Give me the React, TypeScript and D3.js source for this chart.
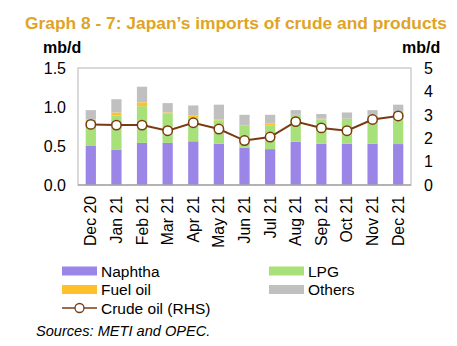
import React from "react";
import * as d3 from "d3";

const categories = ["Dec 20","Jan 21","Feb 21","Mar 21","Apr 21","May 21","Jun 21","Jul 21","Aug 21","Sep 21","Oct 21","Nov 21","Dec 21"];
const naphtha = [0.50,0.45,0.54,0.54,0.56,0.53,0.48,0.46,0.555,0.53,0.53,0.53,0.525];
const lpg = [0.34,0.44,0.47,0.38,0.30,0.30,0.28,0.30,0.345,0.31,0.32,0.37,0.425];
const fuelOil = [0,0.04,0.05,0.01,0.03,0.01,0.01,0.03,0,0.01,0,0,0];
const others = [0.12,0.17,0.20,0.12,0.13,0.19,0.13,0.11,0.06,0.06,0.08,0.06,0.08];
const crude = [2.59,2.56,2.56,2.32,2.66,2.39,1.90,2.05,2.71,2.44,2.32,2.80,2.95];
const leftTicks = [0, 0.5, 1.0, 1.5];
const rightTicks = [0, 1, 2, 3, 4, 5];

const seriesKeys = ["naphtha", "lpg", "fuelOil", "others"];
const seriesColors: Record<string, string> = {
  naphtha: "#9b86e8",
  lpg: "#a8e07a",
  fuelOil: "#ffc02a",
  others: "#c0c0c0",
};
const crudeColor = "#7a3b12";
const titleColor = "#e0a424";

const W = 457, H = 346;
const plot = { left: 78, right: 411, top: 68, bottom: 185 };
const FONT = "'Liberation Sans', Arial, sans-serif";

export default function App() {
  const rows = categories.map((c, i) => ({
    cat: c,
    naphtha: naphtha[i],
    lpg: lpg[i],
    fuelOil: fuelOil[i],
    others: others[i],
  }));
  const stack = d3.stack<any>().keys(seriesKeys)(rows);
  const x = d3.scaleBand().domain(categories).range([plot.left, plot.right]).paddingInner(0.6).paddingOuter(0.3);
  const yL = d3.scaleLinear().domain([0, 1.5]).range([plot.bottom, plot.top]);
  const yR = d3.scaleLinear().domain([0, 5]).range([plot.bottom, plot.top]);
  const cx = (c: string) => (x(c) as number) + x.bandwidth() / 2;
  const line = d3.line<number>().x((_, i) => cx(categories[i])).y((d) => yR(d));

  const legendItems = [
    { key: "naphtha", label: "Naphtha", x: 62, y: 271 },
    { key: "lpg", label: "LPG", x: 269, y: 271 },
    { key: "fuelOil", label: "Fuel oil", x: 62, y: 289.5 },
    { key: "others", label: "Others", x: 269, y: 289.5 },
  ];

  return (
    <svg width={W} height={H} style={{ position: "absolute", left: 0, top: 0, background: "#fff" }} fontFamily={FONT}>
      <text x={25} y={29} fontSize={17.4} fontWeight="bold" fill={titleColor} textLength={422} lengthAdjust="spacingAndGlyphs">
        Graph 8 - 7: Japan’s imports of crude and products
      </text>
      <text x={43} y={53} fontSize={16} fontWeight="bold" fill="#000">mb/d</text>
      <text x={402} y={53} fontSize={16} fontWeight="bold" fill="#000">mb/d</text>

      {/* plot border */}
      <rect x={plot.left} y={plot.top} width={plot.right - plot.left} height={plot.bottom - plot.top} fill="none" stroke="#c6c6c6" strokeWidth={1.3} />

      {stack.map((s) => (
        <g key={s.key} fill={seriesColors[s.key]}>
          {s.map((d, i) => (
            <rect key={i} x={x(categories[i])} width={x.bandwidth()} y={yL(d[1])} height={Math.max(0, yL(d[0]) - yL(d[1]))} />
          ))}
        </g>
      ))}

      <line x1={plot.left} x2={plot.right} y1={plot.bottom} y2={plot.bottom} stroke="#a6a6a6" strokeWidth={1.3} />

      <path d={line(crude) || ""} fill="none" stroke={crudeColor} strokeWidth={2} />
      {crude.map((v, i) => (
        <circle key={i} cx={cx(categories[i])} cy={yR(v)} r={4.7} fill="#fff" stroke={crudeColor} strokeWidth={1.5} />
      ))}

      {leftTicks.map((t) => (
        <text key={t} x={66} y={yL(t)} dy="0.36em" textAnchor="end" fontSize={16} fill="#000">{t.toFixed(1)}</text>
      ))}
      {rightTicks.map((t) => (
        <text key={t} x={424} y={yR(t)} dy="0.36em" textAnchor="start" fontSize={16} fill="#000">{t}</text>
      ))}

      {categories.map((c) => (
        <text key={c} transform={`translate(${cx(c) + 5.5},196) rotate(-90)`} textAnchor="end" fontSize={15.8} fill="#000">{c}</text>
      ))}

      {legendItems.map((l) => (
        <g key={l.key}>
          <rect x={l.x} y={l.y - 4.5} width={35} height={9} fill={seriesColors[l.key]} />
          <text x={l.x + 39} y={l.y} dy="0.36em" fontSize={15.5} fill="#000">{l.label}</text>
        </g>
      ))}
      <g>
        <line x1={62} x2={97} y1={308} y2={308} stroke={crudeColor} strokeWidth={1.5} />
        <circle cx={79.5} cy={308} r={4.5} fill="#fff" stroke={crudeColor} strokeWidth={1.3} />
        <text x={101} y={308} dy="0.36em" fontSize={15.5} fill="#000">Crude oil (RHS)</text>
      </g>

      <text x={36} y={336} fontSize={14.6} fontStyle="italic" fill="#000">Sources: METI and OPEC.</text>
    </svg>
  );
}
